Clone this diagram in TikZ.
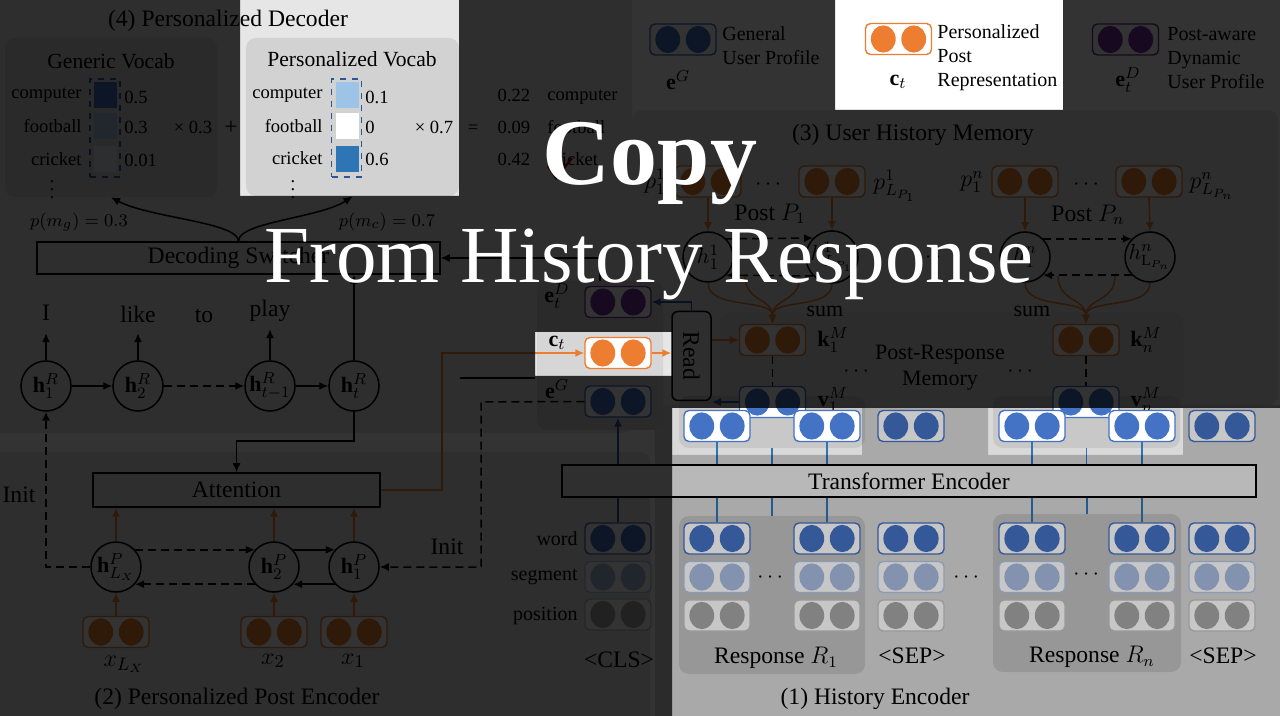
\documentclass[tikz,border=0pt]{standalone}
\usepackage{amsmath}
\usepackage{fontspec}
\setmainfont{Liberation Serif}
\usetikzlibrary{arrows.meta,calc}
\definecolor{orgC}{HTML}{ED7D31}
\definecolor{bluC}{HTML}{4472C4}
\definecolor{navC}{HTML}{2F5597}
\definecolor{lnC}{HTML}{2E75B6}
\definecolor{purC}{HTML}{7030A0}
\definecolor{segC}{HTML}{A9BCE0}
\definecolor{segB}{HTML}{B4C7E7}
\definecolor{posC}{HTML}{A6A6A6}
\definecolor{posB}{HTML}{C4C4C4}
\definecolor{panG}{HTML}{E6E6E6}
\definecolor{vocG}{HTML}{D2D2D2}
\definecolor{hisG}{HTML}{D9D9D9}
\definecolor{resG}{HTML}{C2C2C2}
\definecolor{outG}{HTML}{C8C8C8}
\definecolor{proG}{HTML}{D6D6D6}
\definecolor{memG}{HTML}{DCDCDC}
\definecolor{tfG}{HTML}{ECECEC}
\definecolor{cA}{HTML}{9DC3E6}
\definecolor{cB}{HTML}{2E75B6}
\newcommand{\myfT}{\fontsize{11.8}{14}\selectfont}
\newcommand{\myfV}{\fontsize{10.8}{13}\selectfont}
\newcommand{\myfS}{\fontsize{9.3}{11}\selectfont}
\newcommand{\myfL}{\fontsize{10}{12}\selectfont}
\newcommand{\myfM}{\fontsize{11}{13}\selectfont}
\tikzset{
  emb/.style 2 args={draw=#1, fill=white, rounded corners=2.5pt, line width=0.7pt,
    minimum width=33pt, minimum height=15.5pt, inner sep=0pt,
    path picture={
      \fill[#2] ([xshift=-7.6pt]path picture bounding box.center) ellipse [x radius=6.2pt, y radius=6.8pt];
      \fill[#2] ([xshift=7.6pt]path picture bounding box.center) ellipse [x radius=6.2pt, y radius=6.8pt];}},
  wbox/.style={emb={bluC}{bluC}},
  sbox/.style={emb={segB}{segC}},
  pbox/.style={emb={posB}{posC}},
  obox/.style={emb={orgC}{orgC}},
  dbox/.style={emb={purC}{purC}},
  hc/.style={circle, draw, line width=0.75pt, minimum size=25pt, inner sep=0pt, font=\myfM},
  blk/.style={draw, line width=0.75pt, inner sep=0pt, font=\myfT},
  arr/.style={-{Latex[length=4.5pt,width=4pt]}, line width=0.75pt},
  oarr/.style={arr, draw=orgC},
  dsh/.style={dash pattern=on 4pt off 2.5pt},
  panel/.style={fill=#1, rounded corners=5pt, draw=none, inner sep=0pt},
  lbl/.style={inner sep=0pt},
  cell/.style={fill=#1, minimum width=11.5pt, minimum height=13pt, inner sep=0pt},
}
\begin{document}
\begin{tikzpicture}[x=0.5pt,y=-0.5pt]
\useasboundingbox (0,0) rectangle (1280,716);
\fill[white] (0,0) rectangle (1280,716);
% ---------- panels
\node[panel=panG, minimum width=321pt, minimum height=221.5pt] (pdec) at (311,211.5) {};
\node[panel=panG, minimum width=330pt, minimum height=137pt] (ppost) at (320,589) {};
\node[panel=panG, minimum width=323pt, minimum height=147.5pt] (pmem) at (955,257.5) {};
\node[panel=hisG, minimum width=317.5pt, minimum height=160.5pt] (phis) at (972.5,565.5) {};
\node[panel=proG, minimum width=63pt, minimum height=74.5pt] (pprof) at (600,355.5) {};
\node[panel=vocG, minimum width=106pt, minimum height=79.5pt] (gv) at (111,117.5) {};
\node[panel=vocG, minimum width=106.5pt, minimum height=79pt] (pv) at (352.5,117) {};
\node[panel=memG, minimum width=231.5pt, minimum height=47.5pt] (pmm) at (951.5,360.5) {};
\node[panel=outG, minimum width=93pt, minimum height=26pt] (po1) at (772,422) {};
\node[panel=outG, minimum width=93.5pt, minimum height=26pt] (po2) at (1086.5,422) {};
\node[panel=resG, minimum width=93pt, minimum height=79pt] (pr1) at (772,595) {};
\node[panel=resG, minimum width=94pt, minimum height=79pt] (prn) at (1087,593) {};
% ---------- legend
\node[wbox] (lgG) at (683,39.5) {};
\node[obox] (lgC) at (898.5,39) {};
\node[dbox] (lgD) at (1125.5,39.5) {};
\node[lbl,font=\myfL,align=left,anchor=west] (lgGt) at (722,46) {General\\User Profile};
\node[lbl,font=\myfL,align=left,anchor=west] (lgCt) at (937,58) {Personalized\\Post\\Representation};
\node[lbl,font=\myfL,align=left,anchor=west] (lgDt) at (1167,58) {Post-aware\\Dynamic\\User Profile};
\node[lbl,font=\myfM] (lgGl) at (678,80) {$\mathbf{e}^G$};
\node[lbl,font=\myfM] (lgCl) at (898,82) {$\mathbf{c}_t$};
\node[lbl,font=\myfM] (lgDl) at (1128,80) {$\mathbf{e}_t^D$};
% ---------- (4) decoder
\node[lbl,font=\myfT] (tdec) at (228,21) {(4) Personalized Decoder};
\node[lbl,font=\myfV] (gvt) at (111,61) {Generic Vocab};
\node[lbl,font=\myfV] (pvt) at (352,59) {Personalized Vocab};
\node[lbl,font=\myfS,anchor=base east] (gw1) at (82,99) {computer};
\node[lbl,font=\myfS,anchor=base east] (gw2) at (82,133) {football};
\node[lbl,font=\myfS,anchor=base east] (gw3) at (82,166) {cricket};
\node[lbl,font=\myfS] (gw4) at (52,184) {$\vdots$};
\node[cell=bluC] (gc1) at (105,95.5) {};
\node[cell=bluC!45] (gc2) at (105,126.5) {};
\node[cell=bluC!18] (gc3) at (105,159) {};
\node[draw=navC, dashed, line width=0.6pt, minimum width=15pt, minimum height=49pt, inner sep=0pt] (gd) at (105,128) {};
\node[lbl,font=\myfS,anchor=base west] (gv1) at (124,104) {0.5};
\node[lbl,font=\myfS,anchor=base west] (gv2) at (124,134) {0.3};
\node[lbl,font=\myfS,anchor=base west] (gv3) at (124,167) {0.01};
\node[lbl,font=\myfS,anchor=base] (mul1) at (193,134) {× 0.3};
\node[lbl,font=\myfT,anchor=base] (plus) at (231,135) {+};
\node[lbl,font=\myfS,anchor=base east] (pw1) at (323,99) {computer};
\node[lbl,font=\myfS,anchor=base east] (pw2) at (323,133) {football};
\node[lbl,font=\myfS,anchor=base east] (pw3) at (323,165) {cricket};
\node[lbl,font=\myfS] (pw4) at (293,184) {$\vdots$};
\node[cell=cA] (pc1) at (347,95.5) {};
\node[cell=white] (pc2) at (347,126.5) {};
\node[cell=cB] (pc3) at (347,159) {};
\node[draw=navC, dashed, line width=0.6pt, minimum width=15pt, minimum height=49pt, inner sep=0pt] (pd) at (346.5,128) {};
\node[lbl,font=\myfS,anchor=base west] (pv1) at (365,104) {0.1};
\node[lbl,font=\myfS,anchor=base west] (pv2) at (365,134) {0};
\node[lbl,font=\myfS,anchor=base west] (pv3) at (365,166) {0.6};
\node[lbl,font=\myfS,anchor=base] (mul2) at (434,134) {× 0.7};
\node[lbl,font=\myfS,anchor=base] (eqs) at (473,134) {=};
\node[lbl,font=\myfS,anchor=base] (rv1) at (514,102) {0.22};
\node[lbl,font=\myfS,anchor=base] (rv2) at (514,134) {0.09};
\node[lbl,font=\myfS,anchor=base] (rv3) at (514,166) {0.42};
\node[lbl,font=\myfS,anchor=base west] (rw1) at (547,101) {computer};
\node[lbl,font=\myfS,anchor=base west] (rw2) at (547,134) {football};
\node[lbl,font=\myfS,anchor=base west] (rw3) at (547,166) {cricket};
\coordinate (ck1) at (548,166); \coordinate (ck2) at (556,178); \coordinate (ck3) at (572,158);
\draw[red!70!black, line width=1.2pt] (ck1) -- (ck2) -- (ck3);
% switch
\node[blk, minimum width=201.5pt, minimum height=16pt] (sw) at (238.5,258) {Decoding Switcher};
\draw[arr] (sw.north) .. controls (238,222) and (150,218) .. (gv.south);
\draw[arr] (sw.north) .. controls (238,222) and (320,218) .. (pv.south);
\node[lbl,font=\fontsize{9.4}{11}\selectfont] (pmg) at (79,222) {$p(m_g)=0.3$};
\node[lbl,font=\fontsize{9.4}{11}\selectfont] (pmc) at (387,222) {$p(m_c)=0.7$};
% decoder rnn
\node[hc] (hR1) at (46,386) {$\mathbf{h}_1^R$};
\node[hc] (hR2) at (138,386) {$\mathbf{h}_2^R$};
\node[hc] (hRtm) at (270,386) {$\mathbf{h}_{t-1}^R$};
\node[hc] (hRt) at (354,386) {$\mathbf{h}_t^R$};
\draw[arr] (hR1) -- (hR2);
\draw[arr,dsh] (hR2) -- (hRtm);
\draw[arr] (hRtm) -- (hRt);
\node[lbl,font=\myfT] (wI) at (46,313) {I};
\node[lbl,font=\myfT] (wlike) at (138,314) {like};
\node[lbl,font=\myfT] (wto) at (204,316) {to};
\node[lbl,font=\myfT] (wplay) at (270,311) {play};
\draw[arr] (hR1.north) -- ++(0,-27);
\draw[arr] (hR2.north) -- ++(0,-27);
\draw[arr] (hRtm.north) -- ++(0,-31);
\draw[arr] (hRt.north) -- (hRt.north |- sw.south);
% attention
\node[blk, minimum width=143.5pt, minimum height=17pt] (att) at (236.5,490) {Attention};
\coordinate (attc) at (236.5,441);
\draw[arr] (hRt.south) |- (attc) -- (att.north);
% ---------- (2) post encoder
\node[hc] (hPL) at (116,567) {$\mathbf{h}^P_{L_X}$};
\node[hc] (hP2) at (274,567) {$\mathbf{h}^P_2$};
\node[hc] (hP1) at (354,567) {$\mathbf{h}^P_1$};
\draw[arr,dsh] (hPL.42) -- (hP2.138);
\draw[arr] (hP2.42) -- (hP1.138);
\draw[arr] (hP1.222) -- (hP2.-42);
\draw[arr,dsh] (hP2.222) -- (hPL.-42);
\node[obox] (xL) at (116,632) {};
\node[obox] (x2) at (274,632) {};
\node[obox] (x1) at (354,632) {};
\draw[oarr] (xL.north) -- (hPL.south);
\draw[oarr] (x2.north) -- (hP2.south);
\draw[oarr] (x1.north) -- (hP1.south);
\draw[oarr] (hPL.north) -- (hPL.north |- att.south);
\draw[oarr] (hP2.north) -- (hP2.north |- att.south);
\draw[oarr] (hP1.north) -- (hP1.north |- att.south);
\node[lbl,font=\fontsize{13}{15}\selectfont] (xLl) at (124,664) {$x_{L_X}$};
\node[lbl,font=\fontsize{13}{15}\selectfont] (x2l) at (273,661) {$x_2$};
\node[lbl,font=\fontsize{13}{15}\selectfont] (x1l) at (353,661) {$x_1$};
\node[lbl,font=\myfT] (tpost) at (237,699) {(2) Personalized Post Encoder};
\draw[arr,dsh] (hPL.west) -| (hR1.south);
\node[lbl,font=\myfT] (init1) at (19,495) {Init};
\node[lbl,font=\myfT] (init2) at (447,547) {Init};
% ---------- profile column
\node[dbox] (eD) at (618,302) {};
\node[obox] (ct) at (618,353) {};
\node[wbox] (eG) at (618,401.5) {};
\node[lbl,font=\myfM] (eDl) at (557,296) {$\mathbf{e}_t^D$};
\node[lbl,font=\myfM] (ctl) at (557,343) {$\mathbf{c}_t$};
\node[lbl,font=\myfM] (eGl) at (557,389) {$\mathbf{e}^G$};
\coordinate (ob) at (442,353);
\draw[oarr] (att.east) -| (ob) -- (ct.west);
\coordinate (ir) at (481,402);
\draw[arr,dsh] (eG.west) -- (ir) |- (hP1.east);
\coordinate (bl1) at (460,378); \coordinate (bl2) at (535,378);
\draw[line width=0.75pt] (bl1) -- (bl2);
\draw[arr] (pprof.north) |- (sw.east);
% Read
\node[draw, rounded corners=3pt, line width=0.75pt, minimum width=19.5pt, minimum height=44.5pt, inner sep=0pt] (rd) at (691.5,356) {};
\node[rotate=-90, font=\myfT, inner sep=0pt] (rdt) at (rd.center) {Read};
\draw[oarr] (ct.east) -- (ct.east -| rd.west);
\draw[arr, draw=navC] (rd.north) |- (eD.east);
% ---------- (3) memory
\node[lbl,font=\myfT] (tmem) at (913,135) {(3) User History Memory};
\node[obox] (p11) at (708,181.5) {};
\node[obox] (p1L) at (832,181.5) {};
\node[obox] (pn1) at (1025,181.5) {};
\node[obox] (pnL) at (1149,181.5) {};
\node[lbl,font=\myfT] (p11l) at (655,182) {$p_1^1$};
\node[lbl,font=\myfT] (p1Ll) at (895,186) {$p^1_{L_{P_1}}$};
\node[lbl,font=\myfT] (pn1l) at (972,182) {$p_1^n$};
\node[lbl,font=\myfT] (pnLl) at (1212,186) {$p^n_{L_{P_n}}$};
\node[lbl,font=\myfM] (dd1) at (770,185) {$\cdots$};
\node[lbl,font=\myfM] (dd2) at (1088,185) {$\cdots$};
\node[lbl,font=\myfT] (postP1) at (770,214) {Post $P_1$};
\node[lbl,font=\myfT] (postPn) at (1088,215) {Post $P_n$};
\node[hc] (m11) at (708,257) {$h_1^1$};
\node[hc] (m1L) at (832,257) {$h^1_{L_{P_1}}$};
\node[hc] (mn1) at (1025,257) {$h_1^n$};
\node[hc] (mnL) at (1150,257) {$h^n_{\mathrm{L}_{P_n}}$};
\node[lbl,font=\myfM] (dd3) at (930,258) {$\cdots$};
\draw[oarr] (p11.south) -- (m11.north);
\draw[oarr] (p1L.south) -- (m1L.north);
\draw[oarr] (pn1.south) -- (mn1.north);
\draw[oarr] (pnL.south) -- (mnL.north);
\draw[arr,dsh] (m11.45) -- (m1L.135);
\draw[arr,dsh] (m1L.225) -- (m11.-45);
\draw[arr,dsh] (mn1.45) -- (mnL.135);
\draw[arr,dsh] (mnL.225) -- (mn1.-45);
\node[obox] (kM1) at (772.5,340) {};
\node[obox] (kMn) at (1086,340) {};
\node[wbox] (vM1) at (772.5,402) {};
\node[wbox] (vMn) at (1086,402) {};
\coordinate (s1b) at (745,276); \coordinate (s1c) at (800,276);
\coordinate (snb) at (1058,276); \coordinate (snc) at (1115,276);
\draw[oarr] (m11.south) .. controls (708,310) and (772.5,298) .. (kM1.north);
\draw[oarr] (s1b) .. controls (745,302) and (772.5,298) .. (kM1.north);
\draw[oarr] (s1c) .. controls (800,302) and (772.5,298) .. (kM1.north);
\draw[oarr] (m1L.south) .. controls (832,310) and (772.5,298) .. (kM1.north);
\draw[oarr] (mn1.south) .. controls (1025,310) and (1086,298) .. (kMn.north);
\draw[oarr] (snb) .. controls (1058,302) and (1086,298) .. (kMn.north);
\draw[oarr] (snc) .. controls (1115,302) and (1086,298) .. (kMn.north);
\draw[oarr] (mnL.south) .. controls (1150,310) and (1086,298) .. (kMn.north);
\node[lbl,font=\myfM] (sum1) at (825,311) {sum};
\node[lbl,font=\myfM] (sumn) at (1032,311) {sum};
\node[lbl,font=\myfM] (k1l) at (833,340) {$\mathbf{k}_1^M$};
\node[lbl,font=\myfM] (knl) at (1146,340) {$\mathbf{k}_n^M$};
\node[lbl,font=\myfM] (v1l) at (833,400) {$\mathbf{v}_1^M$};
\node[lbl,font=\myfM] (vnl) at (1146,400) {$\mathbf{v}_n^M$};
\draw[dsh, line width=0.6pt] (kM1.south) -- (vM1.north);
\draw[dsh, line width=0.6pt] (kMn.south) -- (vMn.north);
\node[lbl,font=\myfM,align=center] (prm) at (940,368) {Post-Response\\Memory};
\node[lbl,font=\myfM] (dd4) at (858,372) {$\cdots$};
\node[lbl,font=\myfM] (dd5) at (1022,372) {$\cdots$};
\draw[oarr] (rd.east |- kM1.west) -- (kM1.west);
\draw[arr, draw=navC] (vM1.west) -- (vM1.west -| rd.east);
% ---------- (1) history encoder
\node[blk, fill=tfG, minimum width=347pt, minimum height=16pt] (tf) at (909,481) {Transformer Encoder};
\foreach \n/\xx in {a/717,b/827,s/911,c/1032,d/1142,e/1222}{
  \node[wbox] (t\n) at (\xx,426) {};
  \node[wbox] (w\n) at (\xx,538.5) {};
  \node[sbox] (g\n) at (\xx,577) {};
  \node[pbox] (q\n) at (\xx,615.5) {};
}
\node[wbox] (wcls) at (618,538.5) {};
\node[sbox] (gcls) at (618,577) {};
\node[pbox] (qcls) at (618,614.5) {};
\foreach \n in {a,b,c,d}{
  \draw[lnC, line width=0.75pt] (t\n.south) -- (t\n.south |- tf.north);
  \draw[lnC, line width=0.75pt] (w\n.north) -- (w\n.north |- tf.south);
}
\draw[lnC, line width=0.75pt] (po1.south) -- (po1.south |- tf.north);
\draw[lnC, line width=0.75pt] (po2.south) -- (po2.south |- tf.north);
\draw[lnC, line width=0.75pt] (pr1.north) -- (pr1.north |- tf.south);
\draw[lnC, line width=0.75pt] (prn.north) -- (prn.north |- tf.south);
\draw[navC, line width=0.75pt] (wcls.north) -- (wcls.north |- tf.south);
\draw[arr, draw=navC] (tf.north -| eG.south) -- (eG.south);
\node[lbl,font=\myfL,anchor=east] (lw) at (578,539) {word};
\node[lbl,font=\myfL,anchor=east] (ls) at (578,577) {segment};
\node[lbl,font=\myfL,anchor=east] (lp) at (578,616) {position};
\node[lbl,font=\myfT] (lcls) at (619,660) {<CLS>};
\node[lbl,font=\myfT] (lr1) at (776,658) {Response $R_1$};
\node[lbl,font=\myfT] (lrn) at (1092,657) {Response $R_n$};
\node[lbl,font=\myfT] (ls1) at (912,656) {<SEP>};
\node[lbl,font=\myfT] (ls2) at (1223,656) {<SEP>};
\node[lbl,font=\myfM] (dd6) at (772,578) {$\cdots$};
\node[lbl,font=\myfM] (dd7) at (968,578) {$\cdots$};
\node[lbl,font=\myfM] (dd8) at (1088,575) {$\cdots$};
\node[lbl,font=\myfT] (this) at (875,699) {(1) History Encoder};
% ---------- overlays
\fill[black, opacity=0.8, even odd rule] (0,0) rectangle (1280,716)
  (672,408) rectangle (1280,716) (240,0) rectangle (459,196)
  (835,0) rectangle (1063,110) (535,332) rectangle (672,376);
\fill[black, opacity=0.22, even odd rule] (672,408) rectangle (1280,716)
  (672,408) rectangle (862,455) (988,408) rectangle (1183,455);
% ---------- title text
\node[anchor=base, text=white, inner sep=0pt, font=\fontsize{47}{50}\selectfont\bfseries] (tcopy) at (650,185) {Copy};
\node[anchor=base, text=white, inner sep=0pt, font=\fontsize{40.5}{44}\selectfont] (tfrom) at (649,283) {From History Response};
\end{tikzpicture}
\end{document}
